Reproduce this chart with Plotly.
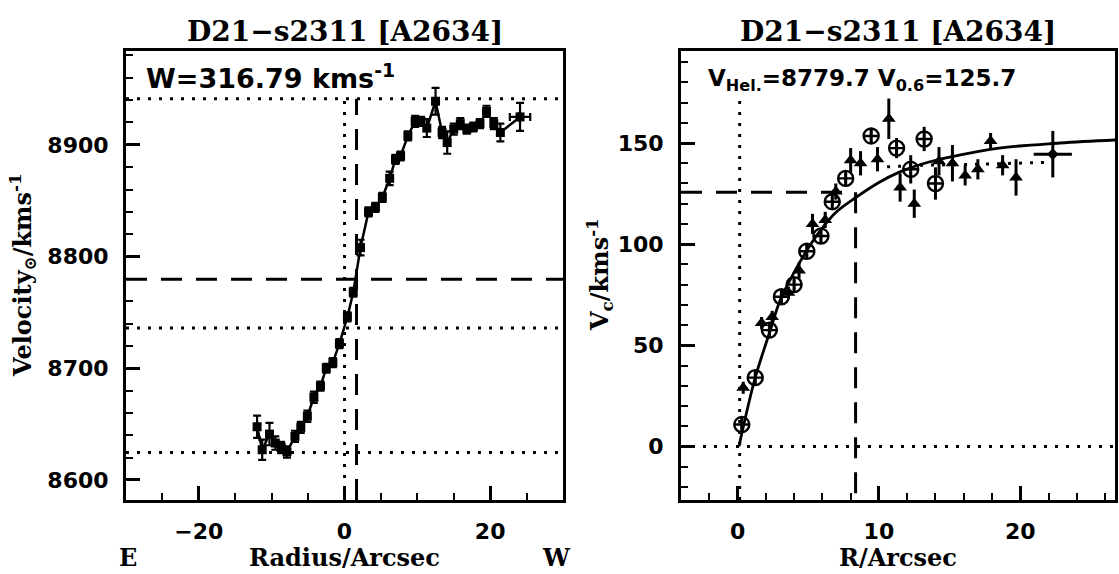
import plotly.graph_objects as go

# ---------------- left panel: heliocentric velocity along the slit ----------------
radius = [-12.0, -11.3, -10.3, -9.5, -8.7, -7.9, -6.8, -6.0, -5.1, -4.2, -3.3, -2.5,
          -1.6, -0.7, 0.4, 1.2, 2.2, 3.3, 4.25, 5.2, 6.2, 7.0, 7.7, 8.7, 9.7, 10.5,
          11.3, 12.5, 13.4, 14.1, 15.0, 15.9, 16.8, 17.7, 18.6, 19.5, 20.5, 21.4, 24.1]
velocity = [8647.6, 8627, 8641, 8633, 8629, 8625, 8639, 8647, 8657, 8674, 8684, 8700,
            8705, 8722, 8746, 8768, 8808, 8840, 8844, 8853, 8870, 8887, 8890, 8908,
            8921, 8921, 8915, 8939, 8911, 8902, 8914, 8919, 8914, 8916, 8919, 8930,
            8919, 8911, 8925]
velocity_err = [10, 9, 10, 6, 5, 5, 5, 5, 5, 5, 4, 4, 4, 4, 4, 4, 7, 4, 4, 4, 6, 4, 4,
                4, 5, 4, 8, 12, 5, 10, 5, 5, 4, 4, 4, 5, 5, 8, 12.5]
outer_radius = [24.1]
outer_velocity = [8925]
outer_radius_err = [1.4]

v_hel = 8779.7          # systemic velocity (dashed)
width_w = 316.79        # W
v_low = 8624.5          # dotted velocity limits
v_high = v_low + width_w
v_mid = 8736.0          # dotted
r_centre = 0.0          # dotted vertical
r_kin = 1.65            # dashed vertical

# ---------------- right panel: folded rotation curve ----------------
r_approach = [0.3, 1.25, 2.25, 3.1, 4.0, 4.9, 5.9, 6.7, 7.65, 9.45, 11.25, 12.25, 13.2, 14.0]
v_approach = [10.8, 34, 57.5, 74, 80, 96.5, 104, 121, 132.5, 153.5, 147.5, 137, 152, 130]
e_approach = [3, 3, 3, 3, 3, 3, 3, 3, 3, 4, 5, 7, 6, 8]

r_recede = [0.4, 1.7, 2.45, 3.6, 4.35, 5.3, 6.2, 6.95, 8.0, 8.7, 9.9, 10.7, 11.5, 12.5,
            14.25, 15.2, 16.1, 17.0, 17.9, 18.75, 19.7]
v_recede = [29, 61, 64, 76, 87, 110, 112, 126, 141.5, 140, 142, 162, 128, 120,
            141, 140, 134, 137, 151, 139, 133]
e_recede = [3, 3, 3, 3, 4, 5, 4, 4, 6, 6, 6, 10, 7, 7, 7, 9, 5, 5, 4, 5, 9]

r_outer = [22.3]
v_outer = [144.5]
e_outer = [11.5]
re_outer = [1.35]

r_fit = [0.1, 1.25, 2.3, 3.0, 4.0, 5.0, 6.0, 7.0, 8.35, 10.0, 11.4, 13.0, 15.0, 18.5, 22.8, 26.7]
v_fit = [0.0, 34, 57, 72, 86, 98, 108, 116, 123, 130.5, 135.5, 139.5, 143, 147.5, 150, 151.5]

r_mean = [9.8, 13.0, 17.0, 22.3]
v_mean = [138.0, 139.0, 139.5, 140.5]

v_06 = 125.7
r_06 = 8.35
r_zero = 0.15

title = "D21\u2212s2311 [A2634]"

BLACK = "black"
SERIF = "DejaVu Serif"
SANS = "DejaVu Sans"
DOT = "3px,8px"
DASH = "21px,14px"

fig = go.Figure()

# left panel traces
fig.add_trace(go.Scatter(
    x=radius, y=velocity, mode="lines+markers",
    line=dict(color=BLACK, width=2.5),
    marker=dict(symbol="square", size=9, color=BLACK),
    error_y=dict(type="data", array=velocity_err, color=BLACK, thickness=2.2, width=4),
    xaxis="x", yaxis="y", showlegend=False))
fig.add_trace(go.Scatter(
    x=outer_radius, y=outer_velocity, mode="markers",
    marker=dict(symbol="triangle-right-open", size=7, color=BLACK, line=dict(width=2)),
    error_x=dict(type="data", array=outer_radius_err, color=BLACK, thickness=2.2, width=4),
    xaxis="x", yaxis="y", showlegend=False))

# right panel traces
fig.add_trace(go.Scatter(
    x=r_fit, y=v_fit, mode="lines", line=dict(color=BLACK, width=2.8, shape="spline"),
    xaxis="x2", yaxis="y2", showlegend=False))
fig.add_trace(go.Scatter(
    x=r_mean, y=v_mean, mode="lines", line=dict(color=BLACK, width=3, dash=DOT),
    xaxis="x2", yaxis="y2", showlegend=False))
fig.add_trace(go.Scatter(
    x=r_recede, y=v_recede, mode="markers",
    marker=dict(symbol="triangle-up", size=12, color=BLACK),
    error_y=dict(type="data", array=e_recede, color=BLACK, thickness=3, width=0),
    xaxis="x2", yaxis="y2", showlegend=False))
fig.add_trace(go.Scatter(
    x=r_approach, y=v_approach, mode="markers",
    marker=dict(symbol="circle-cross-open", size=15, color=BLACK, line=dict(width=2.4)),
    error_y=dict(type="data", array=e_approach, color=BLACK, thickness=3, width=0),
    xaxis="x2", yaxis="y2", showlegend=False))
fig.add_trace(go.Scatter(
    x=r_outer, y=v_outer, mode="markers",
    marker=dict(symbol="diamond", size=9, color=BLACK),
    error_y=dict(type="data", array=e_outer, color=BLACK, thickness=3, width=0),
    error_x=dict(type="data", array=re_outer, color=BLACK, thickness=3, width=0),
    xaxis="x2", yaxis="y2", showlegend=False))

# reference lines
L_XR = [-30, 30]
L_YR = [8582, 8984]
R_XR = [-4, 26.7]
R_YR = [-26.5, 195.5]


def seg(x0, y0, x1, y1, dash, xref="x", yref="y", w=3):
    fig.add_shape(type="line", x0=x0, y0=y0, x1=x1, y1=y1, xref=xref, yref=yref,
                  line=dict(color=BLACK, width=w, dash=dash), layer="below")


seg(L_XR[0], v_high, L_XR[1], v_high, DOT)
seg(L_XR[0], v_low, L_XR[1], v_low, DOT)
seg(L_XR[0], v_mid, L_XR[1], v_mid, DOT)
seg(L_XR[0], v_hel, L_XR[1], v_hel, DASH)
seg(r_centre, L_YR[0], r_centre, v_high, DOT)
seg(r_kin, L_YR[0], r_kin, v_high, DASH)

seg(R_XR[0], 0, R_XR[1], 0, DOT, "x2", "y2")
seg(r_zero, R_YR[0], r_zero, 172, DOT, "x2", "y2")
seg(R_XR[0], v_06, r_06, v_06, DASH, "x2", "y2")
seg(r_06, v_06, r_06, R_YR[0], DASH, "x2", "y2")

tickfont = dict(family=SANS, size=22, color=BLACK, weight="bold")


def axis(rng, dtick, minor, anchor, labels=True, **kw):
    d = dict(range=rng, dtick=dtick, tick0=0, anchor=anchor,
             showgrid=False, zeroline=False, ticks="inside", ticklen=14,
             tickwidth=2.5, tickcolor=BLACK, tickfont=tickfont,
             showticklabels=labels,
             minor=dict(dtick=minor, tick0=0, ticks="inside", ticklen=7,
                        tickwidth=2, tickcolor=BLACK, showgrid=False))
    d.update(kw)
    return d


frame = dict(showline=True, linewidth=3, linecolor=BLACK, mirror=True)
ydom = [1 - 500 / 574, 1 - 51 / 574]
fig.update_layout(
    width=1119, height=574,
    margin=dict(l=0, r=0, t=0, b=0),
    paper_bgcolor="white", plot_bgcolor="white",
    xaxis=axis(L_XR, 20, 5, "y", domain=[126 / 1119, 563 / 1119],
               ticklabelstandoff=10, **frame),
    yaxis=axis(L_YR, 100, 20, "x", domain=ydom, ticklabelstandoff=10, **frame),
    xaxis2=axis(R_XR, 10, 2, "y2", domain=[681 / 1119, 1115 / 1119],
                ticklabelstandoff=10, **frame),
    yaxis2=axis(R_YR, 50, 10, "x2", domain=ydom, ticklabelstandoff=10, **frame),
    # tick marks on the opposite frame edges
    xaxis3=axis(L_XR, 20, 5, "y", labels=False, overlaying="x", side="top"),
    yaxis3=axis(L_YR, 100, 20, "x", labels=False, overlaying="y", side="right"),
    xaxis4=axis(R_XR, 10, 2, "y2", labels=False, overlaying="x2", side="top"),
    yaxis4=axis(R_YR, 50, 10, "x2", labels=False, overlaying="y2", side="right"),
)


def note(text, x, y, size, family=SERIF, xanchor="center", angle=0):
    fig.add_annotation(text=text, x=x, y=y, xref="paper", yref="paper",
                       xanchor=xanchor, yanchor="middle", showarrow=False,
                       textangle=angle,
                       font=dict(family=family, size=size, color=BLACK, weight="bold"))


def px(x):
    return x / 1119


def py(y):
    return 1 - y / 574


note(title, px(344.5), py(31), 28)
note(title, px(898), py(31), 28)
note("W=316.79 kms<sup>-1</sup>", px(144), py(76), 27, family=SANS, xanchor="left")
note("V<sub>Hel.</sub>=8779.7 V<sub>0.6</sub>=125.7", px(706), py(80), 23,
     family=SANS, xanchor="left")
note("Radius/Arcsec", px(344.5), py(557), 24)
note("E", px(128), py(557), 24)
note("W", px(556), py(557), 24)
note("R/Arcsec", px(898), py(557), 24)
note("Velocity<sub>\u2299</sub>/kms<sup>-1</sup>", px(23), py(275), 24, angle=-90)
note("V<sub>c</sub>/kms<sup>-1</sup>", px(600), py(275), 24, angle=-90)

fig.write_html("out.html")
